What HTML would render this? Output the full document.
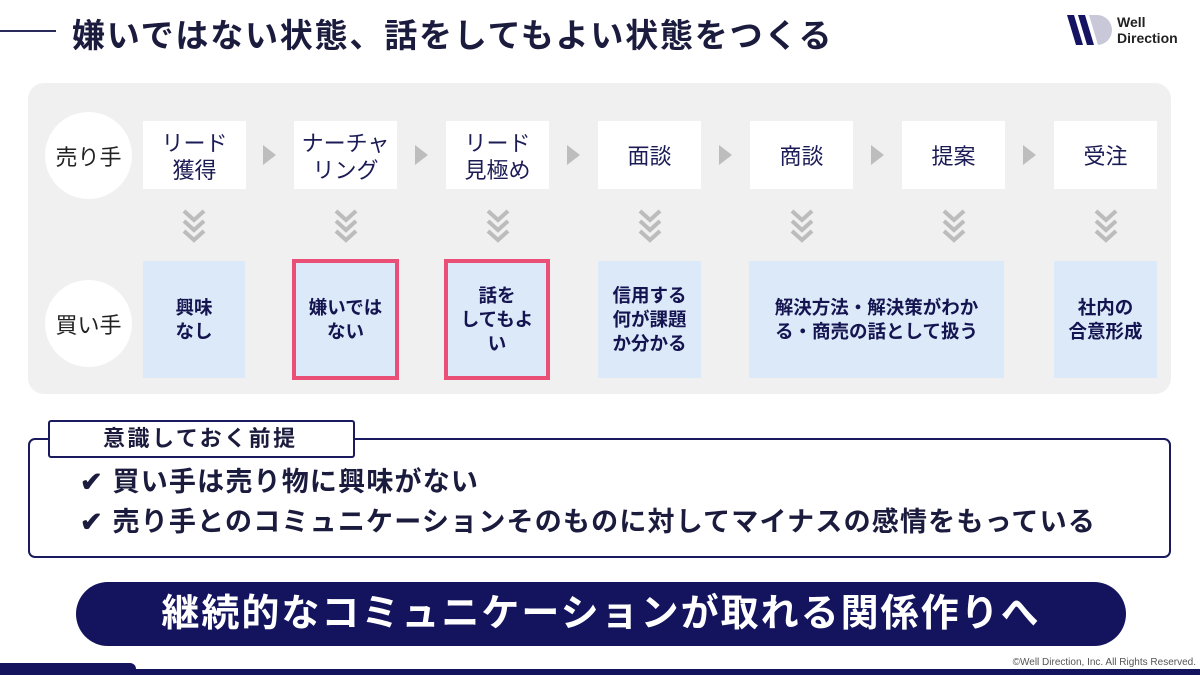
<!DOCTYPE html>
<html><head><meta charset="utf-8"><style>
*{margin:0;padding:0;box-sizing:border-box}
body{width:1200px;height:675px;position:relative;background:#fff;font-family:"Liberation Sans","Noto Sans CJK JP",sans-serif;overflow:hidden;color:#1b1b4b}
.a{position:absolute}
.tb{position:absolute;top:121px;width:103px;height:68px;background:#fff;display:flex;align-items:center;justify-content:center;text-align:center;font-size:22px;line-height:27px;color:#1b1b55;padding-top:3px}
.bb{position:absolute;top:261px;height:117px;background:#dbe9f8;display:flex;align-items:center;justify-content:center;text-align:center;font-size:18.5px;line-height:24px;font-weight:bold;color:#141450}
.red{border:4px solid #ea4f78;top:259px;height:121px}
.tri{position:absolute;top:145px;width:0;height:0;border-top:10px solid transparent;border-bottom:10px solid transparent;border-left:13px solid #bdbdbd}
.circ{position:absolute;left:45px;width:87px;height:87px;border-radius:50%;background:#fff;display:flex;align-items:center;justify-content:center;font-size:22px;color:#222}
</style></head><body>
<div class="a" style="left:0;top:30px;width:56px;height:2px;background:#2a2a5a"></div>
<div class="a" style="left:72px;top:9px;font-size:33px;font-weight:bold;color:#1b1b3e;white-space:nowrap;letter-spacing:1.8px">嫌いではない状態、話をしてもよい状態をつくる</div>
<svg class="a" style="left:1067px;top:15px" width="46" height="32"><polygon points="0,0 7,0 16,30 9,30" fill="#141462"/><polygon points="11,0 18,0 27,30 20,30" fill="#141462"/><path d="M22,0 L30,0 A15,15 0 0 1 30,30 L31,30 Z" fill="#c8c8d8"/></svg>
<div class="a" style="left:1117px;top:14px;font-size:14px;line-height:16px;font-weight:bold;color:#222">Well<br>Direction</div>

<div class="a" style="left:28px;top:83px;width:1143px;height:311px;background:#f0f0f0;border-radius:16px"></div>
<div class="circ" style="top:112px">売り手</div>
<div class="circ" style="top:280px">買い手</div>

<div class="tb" style="left:143px">リード<br>獲得</div>
<div class="tb" style="left:294px">ナーチャ<br>リング</div>
<div class="tb" style="left:446px">リード<br>見極め</div>
<div class="tb" style="left:598px">面談</div>
<div class="tb" style="left:750px">商談</div>
<div class="tb" style="left:902px">提案</div>
<div class="tb" style="left:1054px">受注</div>

<div class="tri" style="left:263px"></div>
<div class="tri" style="left:415px"></div>
<div class="tri" style="left:567px"></div>
<div class="tri" style="left:719px"></div>
<div class="tri" style="left:871px"></div>
<div class="tri" style="left:1023px"></div>

<svg class="a" style="left:0;top:0" width="1200" height="260">
<defs><g id="ch" fill="none" stroke="#bcbcbc" stroke-width="4"><polyline points="-10,2 0,11 10,2"/><polyline points="-10,12 0,21 10,12"/><polyline points="-10,22 0,31 10,22"/></g></defs>
<use href="#ch" x="194" y="209"/><use href="#ch" x="346" y="209"/><use href="#ch" x="498" y="209"/><use href="#ch" x="650" y="209"/><use href="#ch" x="802" y="209"/><use href="#ch" x="954" y="209"/><use href="#ch" x="1106" y="209"/>
</svg>

<div class="bb" style="left:143px;width:102px">興味<br>なし</div>
<div class="bb red" style="left:292px;width:107px">嫌いでは<br>ない</div>
<div class="bb red" style="left:444px;width:106px">話を<br>してもよ<br>い</div>
<div class="bb" style="left:598px;width:103px">信用する<br>何が課題<br>か分かる</div>
<div class="bb" style="left:749px;width:255px">解決方法・解決策がわか<br>る・商売の話として扱う</div>
<div class="bb" style="left:1054px;width:103px">社内の<br>合意形成</div>

<div class="a" style="left:28px;top:438px;width:1143px;height:120px;border:2px solid #1a1a5e;border-radius:7px"></div>
<div class="a" style="left:48px;top:420px;width:307px;height:38px;background:#fff;border:2px solid #1a1a5e;border-radius:3px;font-size:22px;font-weight:bold;line-height:34px;padding-left:53px;color:#1b1b3e;letter-spacing:2.5px;white-space:nowrap">意識しておく前提</div>
<div class="a" style="left:80px;top:465px;font-size:27px;font-weight:bold;color:#1b1b3e;white-space:nowrap;line-height:34px;letter-spacing:1.2px">✔ 買い手は売り物に興味がない</div>
<div class="a" style="left:80px;top:505px;font-size:27px;font-weight:bold;color:#1b1b3e;white-space:nowrap;line-height:34px;letter-spacing:1.2px">✔ 売り手とのコミュニケーションそのものに対してマイナスの感情をもっている</div>

<div class="a" style="left:76px;top:582px;width:1050px;height:64px;background:#13135e;border-radius:32px;color:#fff;font-size:38px;font-weight:bold;text-align:center;line-height:64px;letter-spacing:2px;white-space:nowrap">継続的なコミュニケーションが取れる関係作りへ</div>

<div class="a" style="right:4px;top:657px;font-size:10px;color:#555;white-space:nowrap">©Well Direction, Inc. All Rights Reserved.</div>
<div class="a" style="left:0;top:669px;width:1200px;height:6px;background:#13135e"></div>
<div class="a" style="left:0;top:663px;width:136px;height:12px;background:#13135e;border-top-right-radius:6px"></div>
</body></html>
